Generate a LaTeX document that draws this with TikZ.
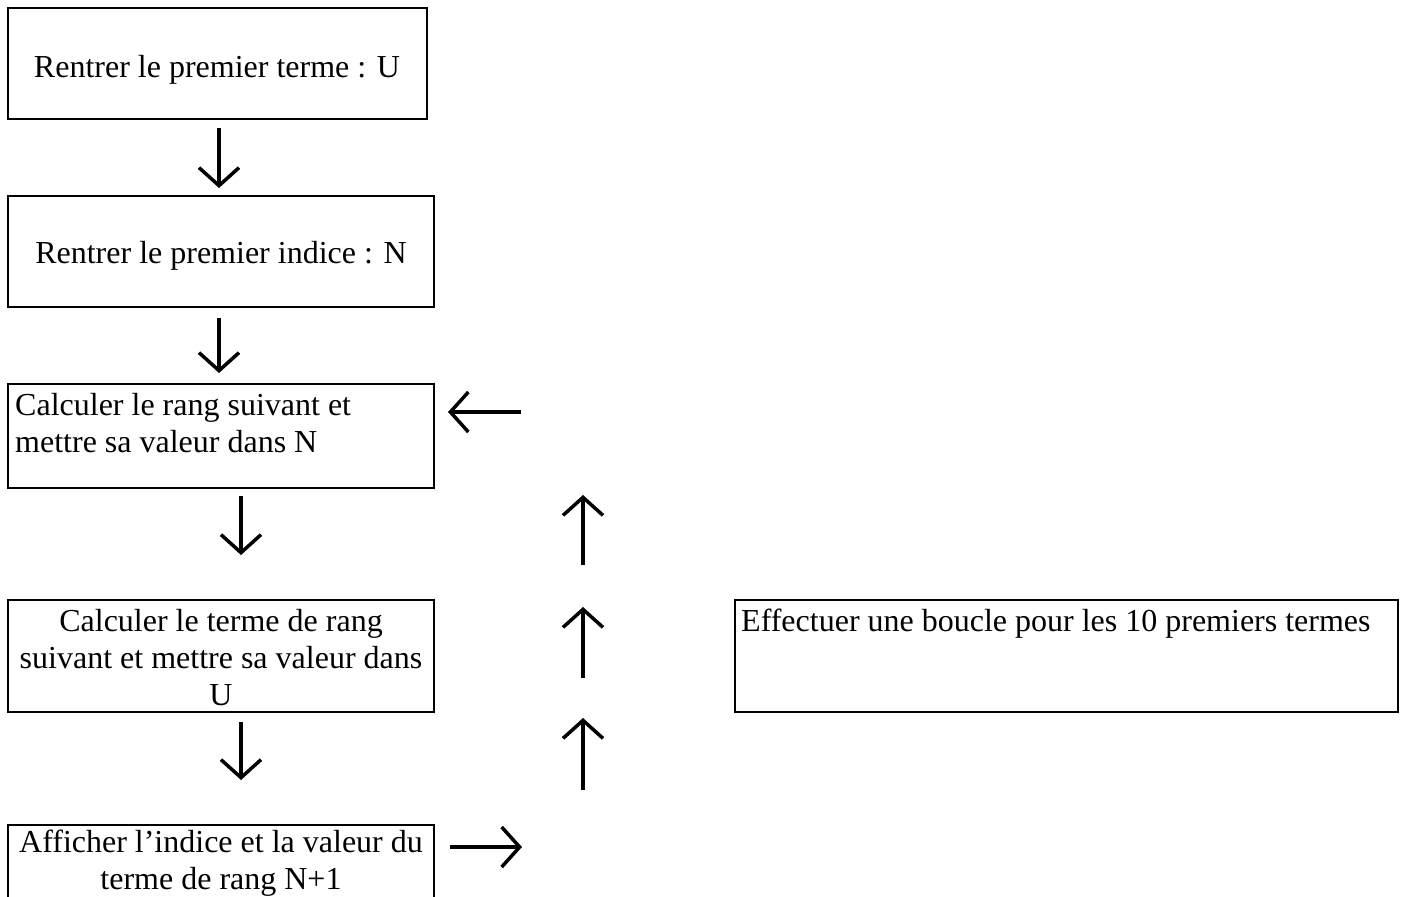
\documentclass[tikz,border=0pt]{standalone}
\usepackage{fontspec}
\setmainfont{Liberation Serif}
\usetikzlibrary{arrows.meta}
\tikzset{
	boite/.style={draw, line width=2.8pt},
	texte/.style={inner sep=0pt, align=center},
	fleche/.style={line width=3.5pt, -{Straight Barb[length=18pt,width=40pt,line width=3.5pt]}}
}
\begin{document}
\begin{tikzpicture}[x=1pt, y=-1pt, font={\fontsize{32}{37}\selectfont}]
	\clip (0,0) rectangle (1404,896);
	\useasboundingbox (0,0) rectangle (1404,896);
	% les cases
	\draw[boite] (8,8) rectangle (427,119);
	\node[texte, anchor=base] (terme) at (217,78) {Rentrer le premier terme : U};
	\draw[boite] (8,196) rectangle (434,307);
	\node[texte, anchor=base] (indice) at (221,263) {Rentrer le premier indice : N};
	\draw[boite] (8,384) rectangle (434,488);
	\node[texte, align=left, anchor=base west] (rang) at (15,452) {Calculer le rang suivant et\\mettre sa valeur dans N};
	\draw[boite] (8,600) rectangle (434,712);
	\node[texte, anchor=base] (calcU) at (221,705) {Calculer le terme de rang\\suivant et mettre sa valeur dans\\U};
	\draw[boite] (8,825) rectangle (434,910);
	\node[texte, anchor=base] (affiche) at (221,889) {Afficher l’indice et la valeur du\\terme de rang N+1};
	\draw[boite] (735,600) rectangle (1398,712);
	\node[texte, align=left, anchor=base west] (boucle) at (741,631) {Effectuer une boucle pour les 10 premiers termes};
	% les fleches
	\coordinate (b1) at (219,128); \coordinate (h2) at (219,188);
	\coordinate (b2) at (219,318); \coordinate (h3) at (219,373);
	\coordinate (b3) at (241,496); \coordinate (h4) at (241,555);
	\coordinate (b4) at (241,722); \coordinate (h5) at (241,780);
	\coordinate (r1) at (450,847); \coordinate (r2) at (522,847);
	\coordinate (m1) at (583,790); \coordinate (m2) at (583,718);
	\coordinate (m3) at (583,678); \coordinate (m4) at (583,607);
	\coordinate (m5) at (583,565); \coordinate (m6) at (583,495);
	\coordinate (g1) at (521,412); \coordinate (g2) at (448,412);
	\draw[fleche] (b1) -- (h2);
	\draw[fleche] (b2) -- (h3);
	\draw[fleche] (b3) -- (h4);
	\draw[fleche] (b4) -- (h5);
	\draw[fleche] (r1) -- (r2);
	\draw[fleche] (m1) -- (m2);
	\draw[fleche] (m3) -- (m4);
	\draw[fleche] (m5) -- (m6);
	\draw[fleche] (g1) -- (g2);
\end{tikzpicture}
\end{document}
